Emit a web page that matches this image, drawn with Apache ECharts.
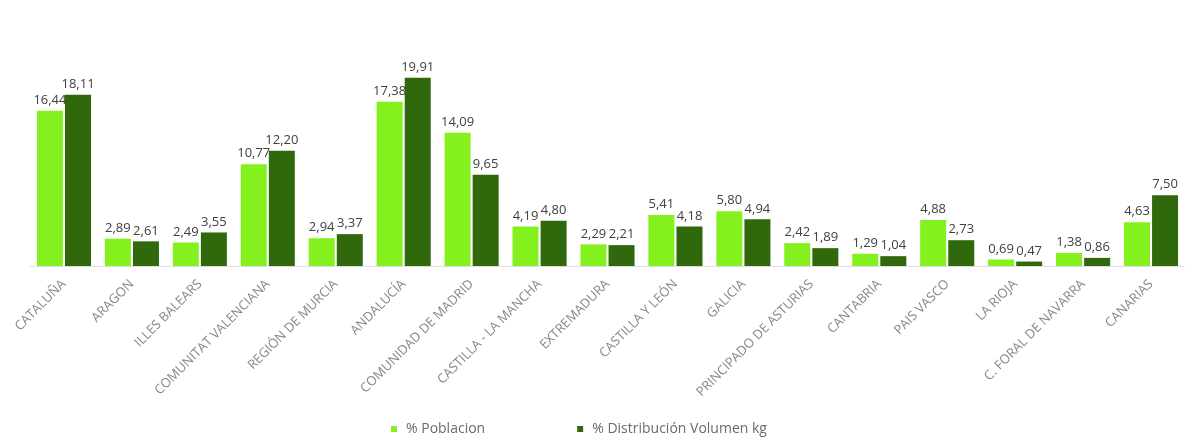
<!DOCTYPE html>
<html>
<head>
<meta charset="utf-8">
<script src="https://cdn.jsdelivr.net/npm/echarts@6/dist/echarts.min.js"></script>
<style>
  html, body { margin: 0; padding: 0; background: #fff; }
  #chart { width: 1185px; height: 441px; }
</style>
</head>
<body>
<div id="chart"></div>
<script>
// comunidades autonomas
var categories = ['CATALUÑA', 'ARAGON', 'ILLES BALEARS', 'COMUNITAT VALENCIANA', 'REGIÓN DE MURCIA',
  'ANDALUCÍA', 'COMUNIDAD DE MADRID', 'CASTILLA - LA MANCHA', 'EXTREMADURA', 'CASTILLA Y LEÓN',
  'GALICIA', 'PRINCIPADO DE ASTURIAS', 'CANTABRIA', 'PAIS VASCO', 'LA RIOJA', 'C. FORAL DE NAVARRA', 'CANARIAS'];

var poblacion = [16.44, 2.89, 2.49, 10.77, 2.94, 17.38, 14.09, 4.19, 2.29, 5.41, 5.80, 2.42, 1.29, 4.88, 0.69, 1.38, 4.63];
var volumen = [18.11, 2.61, 3.55, 12.20, 3.37, 19.91, 9.65, 4.80, 2.21, 4.18, 4.94, 1.89, 1.04, 2.73, 0.47, 0.86, 7.50];

var seriesNames = ['% Poblacion', '% Distribución Volumen kg'];

var chart = echarts.init(document.getElementById('chart'));

// etiqueta con coma decimal
function fmt(p) {
  return p.value.toFixed(2).replace('.', ',');
}

var labelStyle = {
  show: true,
  position: 'top',
  distance: 4,
  color: '#404040',
  fontSize: 13,
  fontFamily: 'Open Sans',
  formatter: fmt
};

var option = {
  backgroundColor: '#ffffff',
  animation: false,
  legend: {
    bottom: 0,
    left: 386,
    itemWidth: 6,
    itemHeight: 6,
    itemGap: 92,
    icon: 'rect',
    textStyle: { color: '#6a6a6a', fontSize: 14, fontFamily: 'Open Sans', padding: [0, 0, 0, 4] },
    data: seriesNames
  },
  grid: { left: 30, width: 1158, top: 77, bottom: 175 },
  xAxis: {
    type: 'category',
    data: categories,
    axisLine: { lineStyle: { color: '#e3dce6' } },
    axisTick: { show: false },
    axisLabel: {
      interval: 0,
      rotate: 45,
      color: '#858585',
      fontSize: 13,
      fontFamily: 'Open Sans',
      margin: 16
    }
  },
  yAxis: {
    type: 'value',
    min: 0,
    max: 20,
    show: false,
    splitLine: { show: false }
  },
  series: [{
    name: seriesNames[0],
    type: 'bar',
    data: poblacion,
    barWidth: 26,
    barGap: '8%',
    itemStyle: { color: '#84F01E' },
    label: labelStyle
  }, {
    name: seriesNames[1],
    type: 'bar',
    data: volumen,
    barWidth: 26,
    itemStyle: { color: '#2F690B' },
    label: labelStyle
  }]
};

chart.setOption(option);
</script>
</body>
</html>
